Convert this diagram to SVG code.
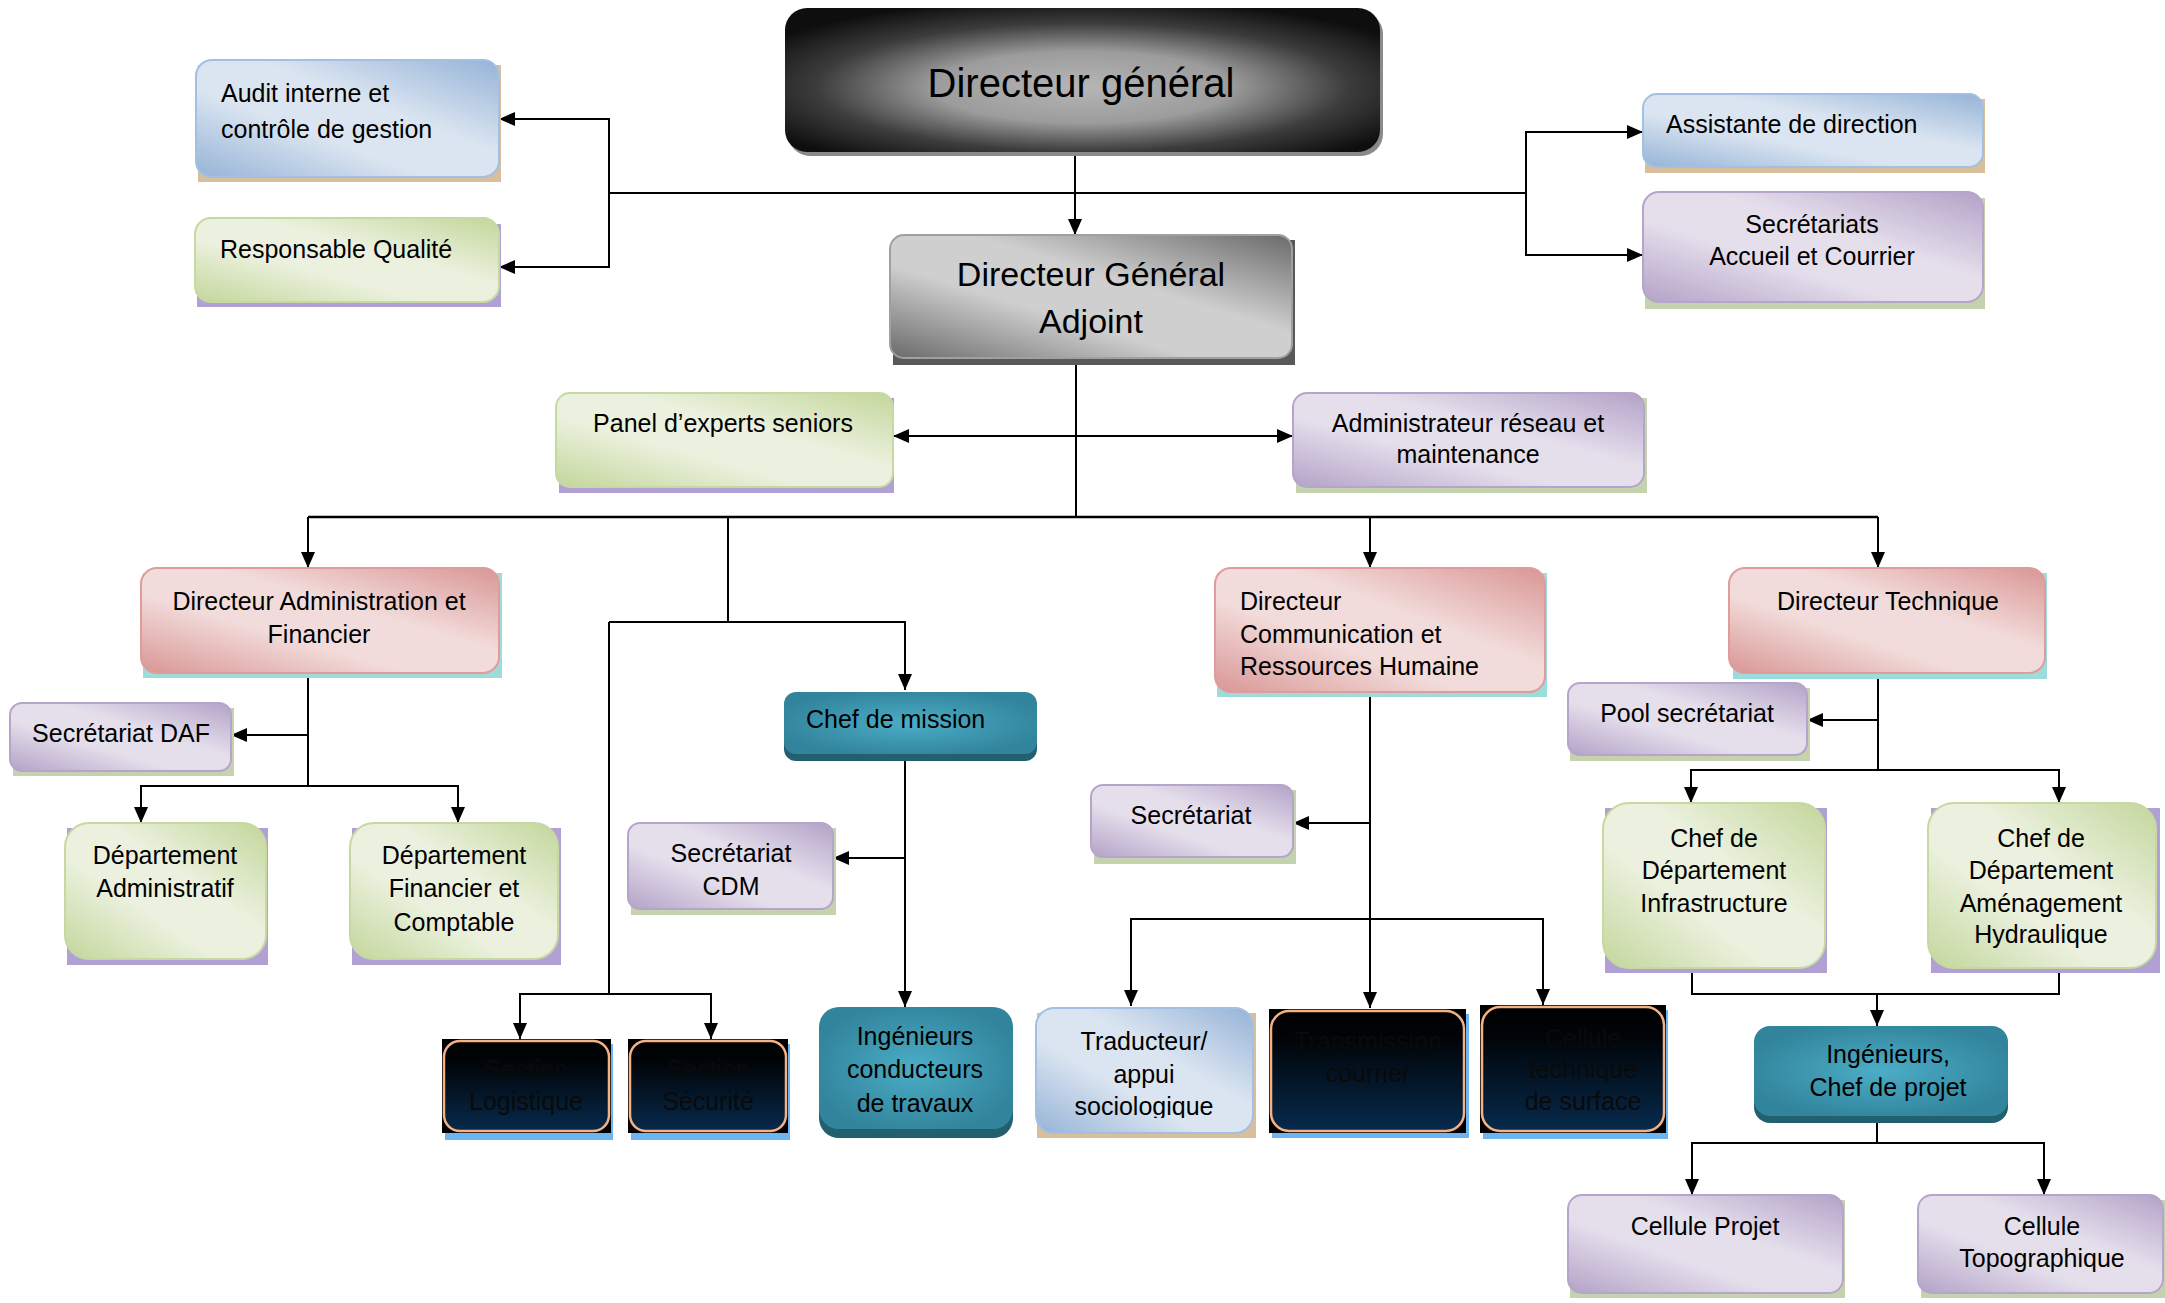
<svg xmlns="http://www.w3.org/2000/svg" width="2165" height="1303" viewBox="0 0 2165 1303">
<style>
text{font-family:"Liberation Sans",Arial,sans-serif;font-size:25px;fill:#000}
.c{text-anchor:middle}
.blue{fill:url(#gBlue);stroke:#a3bfe1;stroke-width:2}
.green{fill:url(#gGreen);stroke:#c6d9a0;stroke-width:2}
.purple{fill:url(#gPurple);stroke:#b5a5cb;stroke-width:2}
.red{fill:url(#gRed);stroke:#df9c9b;stroke-width:2}
.teal{fill:url(#gTeal)}
.tealsh{fill:#22606f}
.dark{fill:url(#gDark);stroke:#f4b183;stroke-width:2.5}
.sh-tan{fill:#d8bf9c}
.sh-pur{fill:#b1a0d4}
.sh-grn{fill:#c4d2ae}
.sh-cyan{fill:#9edcdc}
.sh-blue{fill:#6cb4f2}
.blk{fill:#000}
.dt{fill:#0a0a0a}
#connectors path{fill:none;stroke:#000;stroke-width:2}
.ar{marker-end:url(#arr)}
</style>
<defs>
<marker id="arr" viewBox="0 0 16 14" refX="16" refY="7" markerWidth="16" markerHeight="14" markerUnits="userSpaceOnUse" orient="auto-start-reverse"><path d="M0,0 L16,7 L0,14 z" fill="#000"/></marker>
<linearGradient id="gBlue" x1="1" y1="0" x2="0" y2="1"><stop offset="0" stop-color="#95b3d7"/><stop offset="0.4" stop-color="#dbe5f1"/><stop offset="0.62" stop-color="#dbe5f1"/><stop offset="1" stop-color="#95b3d7"/></linearGradient>
<linearGradient id="gGreen" x1="1" y1="0" x2="0" y2="1"><stop offset="0" stop-color="#c3d69b"/><stop offset="0.4" stop-color="#ebf1de"/><stop offset="0.62" stop-color="#ebf1de"/><stop offset="1" stop-color="#c3d69b"/></linearGradient>
<linearGradient id="gPurple" x1="1" y1="0" x2="0" y2="1"><stop offset="0" stop-color="#b3a2c7"/><stop offset="0.4" stop-color="#e5dfec"/><stop offset="0.62" stop-color="#e5dfec"/><stop offset="1" stop-color="#b3a2c7"/></linearGradient>
<linearGradient id="gRed" x1="1" y1="0" x2="0" y2="1"><stop offset="0" stop-color="#d99694"/><stop offset="0.4" stop-color="#f2dcdb"/><stop offset="0.62" stop-color="#f2dcdb"/><stop offset="1" stop-color="#d99694"/></linearGradient>
<linearGradient id="gGray" x1="1" y1="0" x2="0" y2="1"><stop offset="0" stop-color="#6a6a6a"/><stop offset="0.4" stop-color="#cfcfcf"/><stop offset="0.62" stop-color="#cfcfcf"/><stop offset="1" stop-color="#6a6a6a"/></linearGradient>
<radialGradient id="gBlack" cx="0.5" cy="0.55" r="0.62"><stop offset="0" stop-color="#b6b6b6"/><stop offset="0.4" stop-color="#9c9c9c"/><stop offset="0.72" stop-color="#3c3c3c"/><stop offset="1" stop-color="#0e0e0e"/></radialGradient>
<radialGradient id="gTeal" cx="0.5" cy="0.5" r="0.55"><stop offset="0" stop-color="#4cadc7"/><stop offset="1" stop-color="#31849b"/></radialGradient>
<linearGradient id="gDark" x1="0" y1="0" x2="0" y2="1"><stop offset="0" stop-color="#000000"/><stop offset="0.25" stop-color="#010509"/><stop offset="1" stop-color="#072a4d"/></linearGradient>
<clipPath id="clipTrad"><rect x="1036" y="1008" width="220" height="110"/></clipPath>
</defs>
<rect width="2165" height="1303" fill="#fff"/>

<g id="connectors">
<path class="ar" d="M1075,152 V235"/>
<path d="M609,193 H1526"/>
<path class="ar" d="M609,193 V119 H499"/>
<path class="ar" d="M609,193 V267 H499"/>
<path class="ar" d="M1526,193 V132 H1643"/>
<path class="ar" d="M1526,193 V255 H1643"/>
<path d="M1076,358 V517"/>
<path d="M893,436 H1293" marker-start="url(#arr)" marker-end="url(#arr)"/>
<path d="M308,517 H1878" style="stroke-width:2.5"/>
<path class="ar" d="M308,517 V568"/>
<path class="ar" d="M1370,517 V568"/>
<path class="ar" d="M1878,517 V568"/>
<path d="M728,517 V622"/>
<path class="ar" d="M609,622 H905 V690"/>
<path d="M609,622 V994"/>
<path class="ar" d="M609,994 H520 V1039"/>
<path class="ar" d="M609,994 H711 V1039"/>
<path class="ar" d="M905,759 V1007"/>
<path class="ar" d="M905,858 H833"/>
<path d="M308,673 V786"/>
<path class="ar" d="M308,735 H231"/>
<path class="ar" d="M308,786 H141 V823"/>
<path class="ar" d="M308,786 H458 V823"/>
<path class="ar" d="M1370,692 V1008"/>
<path class="ar" d="M1370,823 H1293"/>
<path class="ar" d="M1370,919 H1131 V1006"/>
<path class="ar" d="M1370,919 H1543 V1005"/>
<path d="M1878,673 V770"/>
<path class="ar" d="M1878,720 H1807"/>
<path class="ar" d="M1878,770 H1691 V803"/>
<path class="ar" d="M1878,770 H2059 V803"/>
<path d="M1692,968 V994 H2059 V968"/>
<path class="ar" d="M1877,994 V1026"/>
<path d="M1877,1122 V1143"/>
<path class="ar" d="M1877,1143 H1692 V1195"/>
<path class="ar" d="M1877,1143 H2044 V1195"/>
</g>

<g id="n-dg">
<rect x="788" y="12" width="595" height="144" rx="22" fill="#8a8a8a"/>
<rect x="785" y="8" width="595" height="144" rx="22" fill="url(#gBlack)"/>
<text class="c" x="1081" y="97" style="font-size:40px">Directeur général</text>
</g>

<g id="n-dga">
<rect x="893" y="240" width="402" height="125" fill="#595959"/>
<rect x="890" y="235" width="402" height="123" rx="14" fill="url(#gGray)" stroke="#a0a0a0" stroke-width="2"/>
<text class="c" x="1091" y="286" style="font-size:34px">Directeur Général</text>
<text class="c" x="1091" y="333" style="font-size:34px">Adjoint</text>
</g>

<g id="n-audit">
<rect class="sh-tan" x="198" y="65" width="303" height="117"/>
<rect class="blue" x="196" y="60" width="303" height="117" rx="16"/>
<text x="221" y="102">Audit interne et</text>
<text x="221" y="138">contrôle de gestion</text>
</g>

<g id="n-qualite">
<rect class="sh-pur" x="197" y="224" width="304" height="83"/>
<rect class="green" x="195" y="218" width="304" height="84" rx="16"/>
<text x="220" y="258">Responsable Qualité</text>
</g>

<g id="n-assistante">
<rect class="sh-tan" x="1645" y="99" width="340" height="74"/>
<rect class="blue" x="1643" y="94" width="340" height="73" rx="14"/>
<text x="1666" y="133">Assistante de direction</text>
</g>

<g id="n-secretariats">
<rect class="sh-grn" x="1645" y="198" width="340" height="111"/>
<rect class="purple" x="1643" y="192" width="340" height="110" rx="16"/>
<text class="c" x="1812" y="233">Secrétariats</text>
<text class="c" x="1812" y="265">Accueil et Courrier</text>
</g>

<g id="n-panel">
<rect class="sh-pur" x="559" y="398" width="335" height="95"/>
<rect class="green" x="556" y="393" width="337" height="94" rx="14"/>
<text class="c" x="723" y="432">Panel d’experts seniors</text>
</g>

<g id="n-admin-reseau">
<rect class="sh-grn" x="1296" y="398" width="351" height="95"/>
<rect class="purple" x="1293" y="393" width="351" height="94" rx="14"/>
<text class="c" x="1468" y="432">Administrateur réseau et</text>
<text class="c" x="1468" y="463">maintenance</text>
</g>

<g id="n-daf">
<rect class="sh-cyan" x="143" y="573" width="359" height="105"/>
<rect class="red" x="141" y="568" width="358" height="105" rx="16"/>
<text class="c" x="319" y="610">Directeur Administration et</text>
<text class="c" x="319" y="643">Financier</text>
</g>

<g id="n-sec-daf">
<rect class="sh-grn" x="13" y="708" width="221" height="68"/>
<rect class="purple" x="10" y="703" width="221" height="68" rx="12"/>
<text class="c" x="121" y="742">Secrétariat DAF</text>
</g>

<g id="n-dep-admin">
<rect class="sh-pur" x="67" y="828" width="201" height="137"/>
<rect class="green" x="65" y="823" width="201" height="136" rx="24"/>
<text class="c" x="165" y="864">Département</text>
<text class="c" x="165" y="897">Administratif</text>
</g>

<g id="n-dep-fin">
<rect class="sh-pur" x="352" y="828" width="209" height="137"/>
<rect class="green" x="350" y="823" width="208" height="136" rx="24"/>
<text class="c" x="454" y="864">Département</text>
<text class="c" x="454" y="897">Financier et</text>
<text class="c" x="454" y="931">Comptable</text>
</g>

<g id="n-chef-mission">
<rect class="tealsh" x="784" y="697" width="253" height="64" rx="12"/>
<rect class="teal" x="784" y="692" width="253" height="62" rx="12"/>
<text x="806" y="728">Chef de mission</text>
</g>

<g id="n-sec-cdm">
<rect class="sh-grn" x="631" y="828" width="205" height="87"/>
<rect class="purple" x="628" y="823" width="205" height="86" rx="12"/>
<text class="c" x="731" y="862">Secrétariat</text>
<text class="c" x="731" y="895">CDM</text>
</g>

<g id="n-logistique">
<rect class="sh-blue" x="445" y="1044" width="168" height="96"/>
<rect class="blk" x="442" y="1039" width="169" height="94"/>
<rect class="dark" x="444" y="1041" width="165" height="90" rx="16"/>
<text class="c dt" x="526" y="1078">Section</text>
<text class="c dt" x="526" y="1110">Logistique</text>
</g>

<g id="n-securite">
<rect class="sh-blue" x="631" y="1044" width="159" height="96"/>
<rect class="blk" x="628" y="1039" width="160" height="94"/>
<rect class="dark" x="630" y="1041" width="156" height="90" rx="16"/>
<text class="c dt" x="708" y="1078">Section</text>
<text class="c dt" x="708" y="1110">Sécurité</text>
</g>

<g id="n-ing-cond">
<rect class="tealsh" x="819" y="1012" width="194" height="126" rx="20"/>
<rect class="teal" x="819" y="1007" width="194" height="122" rx="20"/>
<text class="c" x="915" y="1045">Ingénieurs</text>
<text class="c" x="915" y="1078">conducteurs</text>
<text class="c" x="915" y="1112">de travaux</text>
</g>

<g id="n-dcrh">
<rect class="sh-cyan" x="1217" y="573" width="330" height="124"/>
<rect class="red" x="1215" y="568" width="330" height="124" rx="16"/>
<text x="1240" y="610">Directeur</text>
<text x="1240" y="643">Communication et</text>
<text x="1240" y="675">Ressources Humaine</text>
</g>

<g id="n-secretariat">
<rect class="sh-grn" x="1094" y="790" width="202" height="74"/>
<rect class="purple" x="1091" y="785" width="202" height="72" rx="12"/>
<text class="c" x="1191" y="824">Secrétariat</text>
</g>

<g id="n-traducteur">
<rect class="sh-tan" x="1037" y="1013" width="219" height="125"/>
<rect class="blue" x="1036" y="1008" width="217" height="125" rx="18"/>
<g clip-path="url(#clipTrad)">
<text class="c" x="1144" y="1050">Traducteur/</text>
<text class="c" x="1144" y="1083">appui</text>
<text class="c" x="1144" y="1115">sociologique</text>
</g>
</g>

<g id="n-transmission">
<rect class="sh-blue" x="1272" y="1014" width="197" height="124"/>
<rect class="blk" x="1269" y="1009" width="197" height="124"/>
<rect class="dark" x="1271" y="1011" width="193" height="120" rx="18"/>
<text class="c dt" x="1368" y="1050">Transmission</text>
<text class="c dt" x="1368" y="1082">courrier</text>
</g>

<g id="n-cellule-tech">
<rect class="sh-blue" x="1483" y="1010" width="185" height="129"/>
<rect class="blk" x="1480" y="1005" width="186" height="128"/>
<rect class="dark" x="1482" y="1007" width="182" height="124" rx="18"/>
<text class="c dt" x="1583" y="1047">Cellule</text>
<text class="c dt" x="1583" y="1078">technique</text>
<text class="c dt" x="1583" y="1110">de surface</text>
</g>

<g id="n-dt">
<rect class="sh-cyan" x="1733" y="573" width="314" height="106"/>
<rect class="red" x="1729" y="568" width="316" height="105" rx="16"/>
<text class="c" x="1888" y="610">Directeur Technique</text>
</g>

<g id="n-pool">
<rect class="sh-grn" x="1570" y="688" width="240" height="73"/>
<rect class="purple" x="1568" y="683" width="239" height="72" rx="12"/>
<text class="c" x="1687" y="722">Pool secrétariat</text>
</g>

<g id="n-chef-infra">
<rect class="sh-pur" x="1605" y="808" width="222" height="165"/>
<rect class="green" x="1603" y="803" width="222" height="165" rx="26"/>
<text class="c" x="1714" y="847">Chef de</text>
<text class="c" x="1714" y="879">Département</text>
<text class="c" x="1714" y="912">Infrastructure</text>
</g>

<g id="n-chef-amenag">
<rect class="sh-pur" x="1931" y="808" width="229" height="165"/>
<rect class="green" x="1928" y="803" width="228" height="165" rx="26"/>
<text class="c" x="2041" y="847">Chef de</text>
<text class="c" x="2041" y="879">Département</text>
<text class="c" x="2041" y="912">Aménagement</text>
<text class="c" x="2041" y="943">Hydraulique</text>
</g>

<g id="n-ing-projet">
<rect class="tealsh" x="1754" y="1031" width="254" height="92" rx="16"/>
<rect class="teal" x="1754" y="1026" width="254" height="90" rx="16"/>
<text class="c" x="1888" y="1063">Ingénieurs,</text>
<text class="c" x="1888" y="1096">Chef de projet</text>
</g>

<g id="n-cellule-projet">
<rect class="sh-grn" x="1570" y="1200" width="275" height="98"/>
<rect class="purple" x="1568" y="1195" width="275" height="98" rx="14"/>
<text class="c" x="1705" y="1235">Cellule Projet</text>
</g>

<g id="n-cellule-topo">
<rect class="sh-grn" x="1921" y="1200" width="244" height="98"/>
<rect class="purple" x="1918" y="1195" width="245" height="98" rx="14"/>
<text class="c" x="2042" y="1235">Cellule</text>
<text class="c" x="2042" y="1267">Topographique</text>
</g>
</svg>
